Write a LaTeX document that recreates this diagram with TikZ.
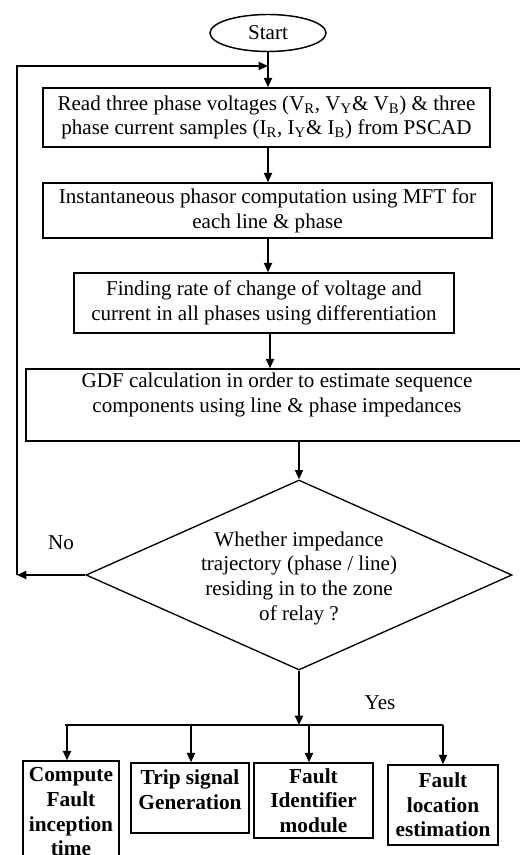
\documentclass[tikz,border=0pt]{standalone}
\usepackage{fontspec}
\setmainfont{Liberation Serif}
\usetikzlibrary{shapes.geometric,arrows.meta}
\begin{document}
\begin{tikzpicture}[x=0.75pt,y=-0.75pt,
  every node/.style={font=\fontsize{15.8}{18.5}\selectfont},
  box/.style={draw,line width=1.1pt,inner sep=0pt,align=center},
  bbox/.style={box,font=\fontsize{16}{18.5}\selectfont\bfseries},
  arr/.style={line width=1.4pt,-{Triangle[length=7pt,width=6pt]}},
  plain/.style={line width=1.4pt},
  lbl/.style={inner sep=0pt}]
\fill[white] (0,0) rectangle (520,855);
\useasboundingbox (0,0) rectangle (520,855);
\node[draw,ellipse,line width=1.1pt,inner sep=0pt,minimum width=87pt,minimum height=27.75pt] (start) at (268,33) {Start};
\node[box,minimum width=335.25pt,minimum height=44.25pt] (r1) at (266.5,117.5)
  {Read three phase voltages (V\textsubscript{R}, V\textsubscript{Y}\& V\textsubscript{B}) \& three\\
   phase current samples (I\textsubscript{R}, I\textsubscript{Y}\& I\textsubscript{B}) from PSCAD};
\node[box,minimum width=336.75pt,minimum height=41.25pt] (r2) at (267.5,210.5)
  {Instantaneous phasor computation using MFT for\\each line \& phase};
\node[box,minimum width=285pt,minimum height=45pt] (r3) at (264,303)
  {Finding rate of change of voltage and\\current in all phases using differentiation};
\node[box,minimum width=376.5pt,minimum height=54pt] (r4) at (277,405)
  {GDF calculation in order to estimate sequence\\components using line \& phase impedances\\\mbox{}};
\node[draw,diamond,line width=1pt,inner sep=0pt,minimum width=319.5pt,minimum height=142.5pt] (dec) at (299,575)
  {\raisebox{-12pt}{\smash{\makebox[0pt]{\begin{tabular}{@{}c@{}}Whether impedance\\trajectory (phase / line)\\residing in to the zone\\of relay ?\end{tabular}}}}};
\node[bbox,minimum width=72pt,minimum height=76.5pt] (o1) at (71,812)
  {Compute\\Fault\\inception\\time};
\node[bbox,minimum width=88.5pt,minimum height=52.5pt] (o2) at (190,798)
  {Trip signal\\Generation\\[-6pt]\mbox{}};
\node[bbox,minimum width=89.25pt,minimum height=56.25pt] (o3) at (313.5,800.5)
  {Fault\\Identifier\\module};
\node[bbox,minimum width=82.5pt,minimum height=60pt] (o4) at (443,805)
  {Fault\\location\\estimation};
\node[lbl] (no) at (61,543) {No};
\node[lbl] (yes) at (380,703) {Yes};
% connectors
\coordinate (join) at (268,66);
\coordinate (loopc) at (17,575);
\draw[arr] (start.south) -- (start.south |- r1.north);
\draw[arr] (r1.south -| start) -- (r2.north -| start);
\draw[arr] (r2.south -| start) -- (r3.north -| start);
\draw[arr] (r3.south -| 270,0) -- (r4.north -| 270,0);
\draw[arr] (dec.north |- r4.south) -- (dec.north);
\draw[arr] (dec.west) -- (loopc);
\draw[arr] (loopc) |- (join);
\coordinate (bus) at (299,725);
\coordinate (busL) at (65,725);
\coordinate (c1) at (67,725);
\coordinate (c2) at (191,725);
\coordinate (c3) at (309,725);
\coordinate (c4) at (443,725);
\draw[arr] (dec.south) -- (bus);
\draw[plain] (busL) -- (c4);
\draw[arr] (c1) -- (c1 |- o1.north);
\draw[arr] (c2) -- (c2 |- o2.north);
\draw[arr] (c3) -- (c3 |- o3.north);
\draw[arr] (c4) -- (o4.north);
\end{tikzpicture}
\end{document}
